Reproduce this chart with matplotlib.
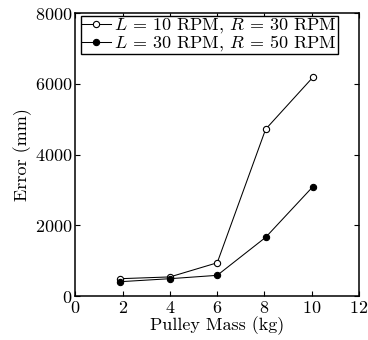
import numpy as np
import matplotlib
matplotlib.use('Agg')
import matplotlib.pyplot as plt

plt.rcParams['font.family'] = 'serif'
plt.rcParams['font.serif'] = ['cmr10']
plt.rcParams['mathtext.fontset'] = 'cm'
plt.rcParams['axes.formatter.use_mathtext'] = True

# data
mass = [1.9, 4.0, 6.0, 8.05, 10.05]
err_slow = [490, 540, 940, 4720, 6190]   # L=10, R=30
err_fast = [405, 490, 585, 1660, 3095]   # L=30, R=50
lab_slow = r'$L$ = 10 RPM, $R$ = 30 RPM'
lab_fast = r'$L$ = 30 RPM, $R$ = 50 RPM'

fig = plt.figure(figsize=(3.68, 3.40), dpi=100)
ax = fig.add_axes([0.205, 0.1294, 0.7705, 0.8315])

ax.plot(mass, err_slow, '-o', color='k', mfc='w', mec='k', ms=4.5, lw=0.75, mew=0.8, label=lab_slow)
ax.plot(mass, err_fast, '-o', color='k', mfc='k', mec='k', ms=4.5, lw=0.75, mew=0.8, label=lab_fast)

ax.set_xlim(0, 12)
ax.set_ylim(0, 8000)
ax.set_xticks(np.arange(0, 13, 2))
ax.set_yticks(np.arange(0, 8001, 2000))
ax.tick_params(direction='in', top=True, right=True, length=3.5, width=0.8, labelsize=13, pad=2)
ax.tick_params(axis='x', pad=3)
for s in ax.spines.values():
    s.set_linewidth(1.1)

ax.set_xlabel('Pulley Mass (kg)', fontsize=13, labelpad=0)
ax.set_ylabel('Error (mm)', fontsize=13, labelpad=2)

leg = ax.legend(loc='upper left', fontsize=13, fancybox=False, framealpha=1, edgecolor='k',
                borderpad=0.05, labelspacing=-0.1, handlelength=1.6, handletextpad=0.2,
                borderaxespad=0.0, bbox_to_anchor=(0.019, 0.992))
leg.get_frame().set_linewidth(1.0)

fig.savefig('out.png', dpi=100)
